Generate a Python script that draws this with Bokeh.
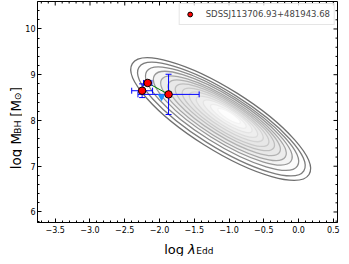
import numpy as np
from math import pi
from bokeh.plotting import figure
from bokeh.layouts import column, row
from bokeh.models import ColumnDataSource, FixedTicker, Range1d
from bokeh.core.properties import value
from bokeh.embed import file_html
from bokeh.resources import INLINE

# ---------------- data ----------------
obj_name = "SDSSJ113706.93+481943.68"
pt_logl = [-2.17, -2.25, -1.87]
pt_logm = [8.82, 8.65, 8.57]
pt_xerr = [0.06, 0.15, 0.44]
pt_yerr = [0.04, 0.15, 0.44]

link_logl = [-2.17, -1.87]
link_logm = [8.82, 8.57]

blue_logl = [-1.97]
blue_logm = [8.52]

# density contours of the comparison sample (approximated as nested ellipses)
cont_x = [-1.12, -1.11, -1.10, -1.09, -1.08, -1.07, -1.06, -1.05, -1.04, -1.03, -1.02, -1.01, -1.00]
cont_y = [8.03, 8.03, 8.04, 8.05, 8.05, 8.06, 8.07, 8.07, 8.08, 8.08, 8.09, 8.09, 8.10]
cont_w = [3.00, 2.80, 2.56, 2.32, 2.10, 1.88, 1.66, 1.45, 1.24, 1.03, 0.82, 0.60, 0.38]
cont_h = [1.34, 1.20, 1.08, 0.97, 0.87, 0.77, 0.68, 0.59, 0.50, 0.41, 0.32, 0.23, 0.15]
cont_line = ["#707070", "#7c7c7c", "#8a8a8a", "#989898", "#a5a5a5", "#b2b2b2", "#bebebe",
             "#c9c9c9", "#d3d3d3", "#dcdcdc", "#e4e4e4", "#ececec", "#f3f3f3"]
cont_fill = ["#ffffff", "#ffffff", "#fbfbfb", "#f3f3f3", "#ececec", "#e8e8e8", "#e6e6e6",
             "#e7e7e7", "#eaeaea", "#eeeeee", "#f3f3f3", "#f8f8f8", "#fdfdfd"]
cont_angle = [-0.56] * len(cont_x)

xticks = [-3.5, -3.0, -2.5, -2.0, -1.5, -1.0, -0.5, 0.0, 0.5]
xtick_labels = ["\u22123.5", "\u22123.0", "\u22122.5", "\u22122.0", "\u22121.5",
                "\u22121.0", "\u22120.5", "0.0", "0.5"]
yticks = [6, 7, 8, 9, 10]
ytick_labels = ["6", "7", "8", "9", "10"]

x_lo, x_hi = -3.755, 0.56
y_lo, y_hi = 5.77, 10.6

FNT = "DejaVu Sans"
YT_W, XT_H = 22, 21
MAIN_W, MAIN_H = 341 - YT_W, 235

# ---------------- main figure ----------------
p = figure(width=MAIN_W, height=MAIN_H, x_range=Range1d(x_lo, x_hi), y_range=Range1d(y_lo, y_hi),
           output_backend="svg", toolbar_location=None,
           min_border_left=13, min_border_right=4, min_border_top=1, min_border_bottom=13)
p.grid.visible = False
p.outline_line_color = "black"
p.outline_line_width = 1

xminor = [round(v, 2) for v in np.arange(-3.7, 0.56, 0.1) if round(v, 2) not in xticks]
yminor = [round(v, 2) for v in np.arange(5.8, 10.6, 0.2) if round(v, 2) not in yticks]

p.xaxis.ticker = FixedTicker(ticks=xticks, minor_ticks=xminor)
p.yaxis.ticker = FixedTicker(ticks=yticks, minor_ticks=yminor)
p.xaxis.major_label_overrides = {t: s for t, s in zip(xticks, xtick_labels)}
p.yaxis.major_label_overrides = {t: s for t, s in zip(yticks, ytick_labels)}
for ax in (p.xaxis[0], p.yaxis[0]):
    ax.major_tick_in = 4
    ax.major_tick_out = 0
    ax.minor_tick_in = 2
    ax.minor_tick_out = 0
    ax.axis_line_color = "black"
    ax.major_label_text_font = FNT
    ax.major_label_text_font_size = "8px"
    ax.major_label_text_color = "black"
p.xaxis.major_label_standoff = 3
p.yaxis.major_label_standoff = 2

# contours
csrc = ColumnDataSource(dict(x=cont_x, y=cont_y, w=cont_w, h=cont_h, a=cont_angle,
                             lc=cont_line, fc=cont_fill))
p.ellipse(x="x", y="y", width="w", height="h", angle="a", source=csrc,
          line_color="lc", fill_color="fc", line_width=1.3)

# link line
p.line(link_logl, link_logm, line_color="green", line_width=1)

# error bars
xl = [x - e for x, e in zip(pt_logl, pt_xerr)]
xu = [x + e for x, e in zip(pt_logl, pt_xerr)]
yl = [y - e for y, e in zip(pt_logm, pt_yerr)]
yu = [y + e for y, e in zip(pt_logm, pt_yerr)]
esrc = ColumnDataSource(dict(x=pt_logl, y=pt_logm, xl=xl, xu=xu, yl=yl, yu=yu))
p.segment(x0="xl", y0="y", x1="xu", y1="y", source=esrc, line_color="blue", line_width=1)
p.segment(x0="x", y0="yl", x1="x", y1="yu", source=esrc, line_color="blue", line_width=1)
for cx, cy, ang in (("xl", "y", pi / 2), ("xu", "y", pi / 2), ("x", "yl", 0.0), ("x", "yu", 0.0)):
    p.scatter(x=cx, y=cy, source=esrc, marker="dash", angle=ang, size=6,
              line_color="blue", line_width=1)

# blue marker
p.scatter(blue_logl, blue_logm, marker="inverted_triangle", size=8,
          fill_color="#1e90ff", line_color=None)

# red points
p.scatter(pt_logl, pt_logm, marker="circle", size=7.5, fill_color="red",
          line_color="black", line_width=1, legend_label=obj_name)

# inward ticks on the top and right frame edges (half of each dash is clipped by the frame)
p.scatter(xticks, [y_hi] * len(xticks), marker="dash", angle=pi / 2, size=8, line_color="black")
p.scatter(xminor, [y_hi] * len(xminor), marker="dash", angle=pi / 2, size=4, line_color="black")
p.scatter([x_hi] * len(yticks), yticks, marker="dash", size=8, line_color="black")
p.scatter([x_hi] * len(yminor), yminor, marker="dash", size=4, line_color="black")

lg = p.legend[0]
lg.location = "top_right"
lg.margin = 2
lg.padding = 4
lg.spacing = 0
lg.glyph_width = 12
lg.glyph_height = 12
lg.label_height = 12
lg.label_standoff = 10
lg.label_text_font = FNT
lg.label_text_font_size = "8.5px"
lg.label_text_baseline = "middle"
lg.border_line_color = "#cccccc"
lg.border_line_width = 1
lg.background_fill_alpha = 0.8

# ---------------- axis titles (with subscripts) ----------------
def blank(w, h):
    f = figure(width=w, height=h, x_range=Range1d(0, w), y_range=Range1d(0, h),
               output_backend="svg", toolbar_location=None, x_axis_type=None, y_axis_type=None,
               min_border=0)
    f.grid.visible = False
    f.outline_line_color = None
    return f

def put(f, x, y, txt, size, align="left", style="normal", angle=0.0):
    f.text(x=[x], y=[y], text=[txt], angle=angle, text_align=align, text_baseline="alphabetic",
           text_font=value(FNT), text_font_size=value(size), text_font_style=style,
           text_color="black")

# x title: "log λ_Edd"
xf = blank(MAIN_W + YT_W, XT_H)
put(xf, 183.5, 7.5, "log", "13px", align="right")
put(xf, 187.6, 7.5, "\u03bb", "13px", style="italic")
put(xf, 195.8, 5.5, "Edd", "9px")

# y title: "log M_BH [M_⊙]" (rotated, read bottom to top)
yf = blank(YT_W, MAIN_H)
put(yf, 15.0, 56.5, "log M", "13.5px", angle=pi / 2)
put(yf, 17.4, 94.0, "BH", "9.5px", angle=pi / 2)
put(yf, 15.0, 112.5, "[M", "13.5px", angle=pi / 2)
put(yf, 17.4, 130.0, "\u2299", "9.5px", angle=pi / 2)
put(yf, 15.0, 138.5, "]", "13.5px", angle=pi / 2)

layout = column(row(yf, p, spacing=0), xf, spacing=0)

open("out.html", "w").write(file_html(layout, INLINE))
